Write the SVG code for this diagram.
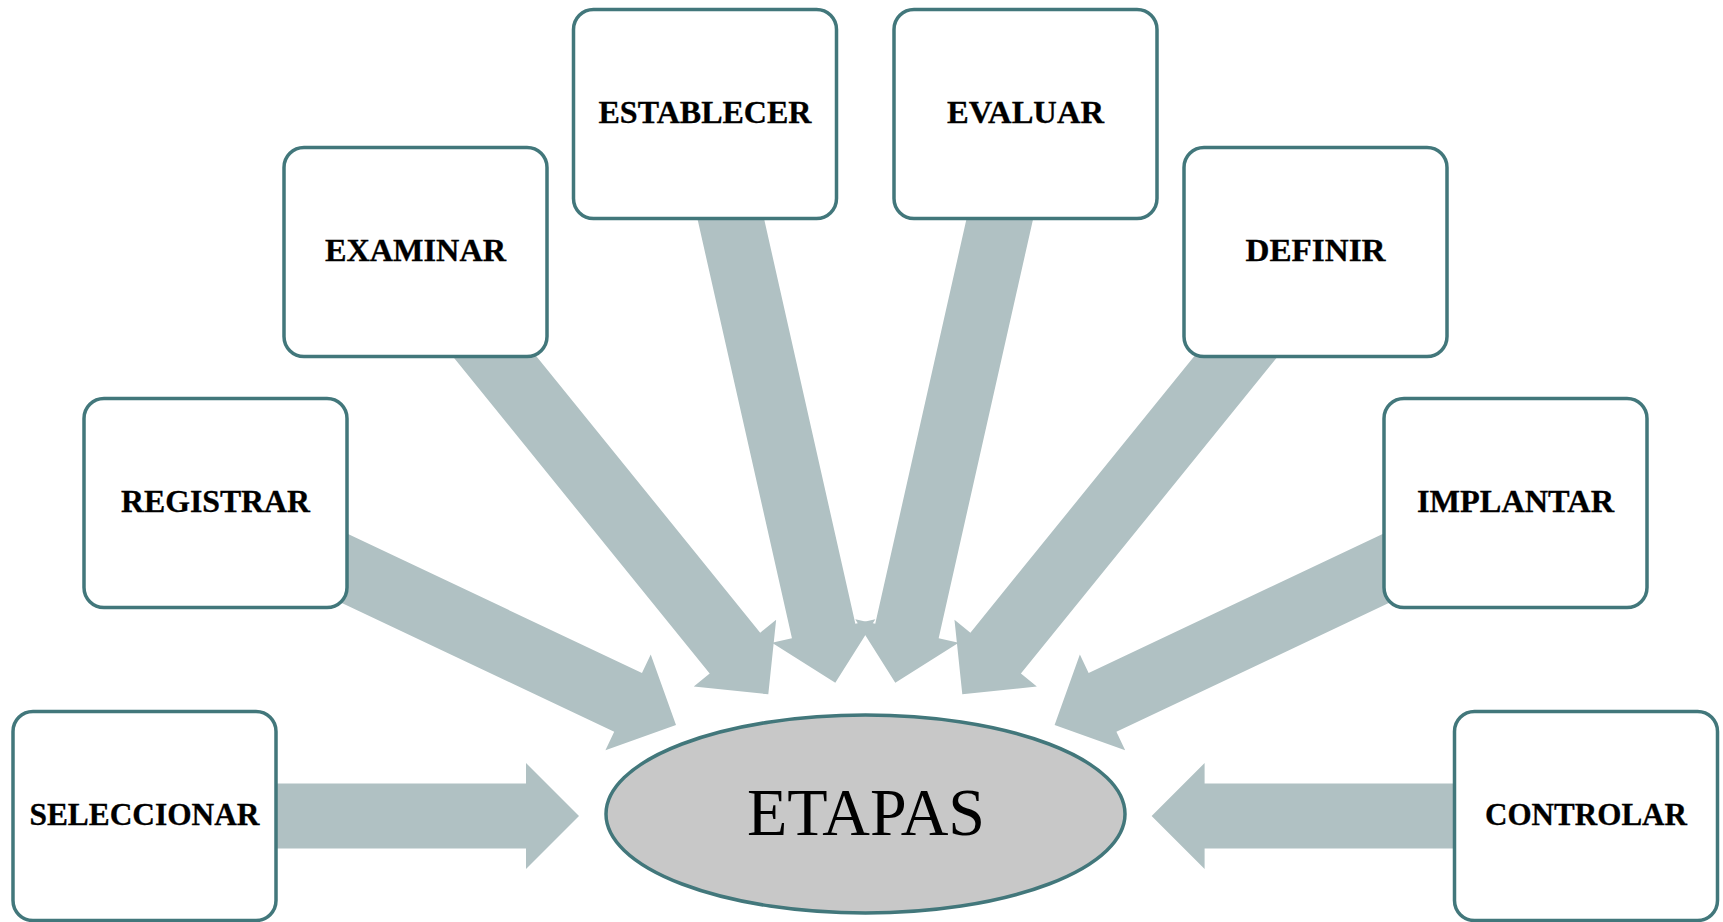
<svg xmlns="http://www.w3.org/2000/svg" xmlns:xlink="http://www.w3.org/1999/xlink" width="1723" height="922" viewBox="0 0 1723 922">
<style>
.box{fill:#ffffff;stroke:#42777b;stroke-width:3.5}
.lbl{font-family:"Liberation Serif","Times New Roman",serif;font-weight:bold;font-size:30.5px;fill:#000;text-anchor:middle;stroke:#000;stroke-width:0.3}
.arr{fill:#b0c1c3}
</style>
<defs>
<path id="blk" d="M0,0 L-53,-53 L-53,-32.5 L-520,-32.5 L-520,32.5 L-53,32.5 L-53,53 Z"/>
</defs>
<rect width="1723" height="922" fill="#ffffff"/>
<g id="connectors" class="arr">
<use xlink:href="#blk" href="#blk" transform="translate(579,816)"/>
<use xlink:href="#blk" href="#blk" transform="translate(676,725) rotate(25.3)"/>
<use xlink:href="#blk" href="#blk" transform="translate(768.3,694.3) rotate(51)"/>
<use xlink:href="#blk" href="#blk" transform="translate(835.3,682.7) rotate(77.3)"/>
<use xlink:href="#blk" href="#blk" transform="translate(895.3,682.7) rotate(102.7)"/>
<use xlink:href="#blk" href="#blk" transform="translate(962.3,694.3) rotate(129)"/>
<use xlink:href="#blk" href="#blk" transform="translate(1054.6,725) rotate(154.7)"/>
<use xlink:href="#blk" href="#blk" transform="translate(1151.6,816) rotate(180)"/>
</g>
<g id="seleccionar"><rect class="box" x="13" y="711.5" width="263" height="209" rx="20"/><text class="lbl" x="144.5" y="825" textLength="230" lengthAdjust="spacingAndGlyphs">SELECCIONAR</text></g>
<g id="registrar"><rect class="box" x="84" y="398.5" width="263" height="209" rx="20"/><text class="lbl" x="215.5" y="512" textLength="189" lengthAdjust="spacingAndGlyphs">REGISTRAR</text></g>
<g id="examinar"><rect class="box" x="284" y="147.5" width="263" height="209" rx="20"/><text class="lbl" x="415.5" y="261" textLength="181" lengthAdjust="spacingAndGlyphs">EXAMINAR</text></g>
<g id="establecer"><rect class="box" x="573.5" y="9.5" width="263" height="209" rx="20"/><text class="lbl" x="705" y="123" textLength="213" lengthAdjust="spacingAndGlyphs">ESTABLECER</text></g>
<g id="evaluar"><rect class="box" x="894" y="9.5" width="263" height="209" rx="20"/><text class="lbl" x="1025.5" y="123" textLength="157" lengthAdjust="spacingAndGlyphs">EVALUAR</text></g>
<g id="definir"><rect class="box" x="1184" y="147.5" width="263" height="209" rx="20"/><text class="lbl" x="1315.5" y="261" textLength="140" lengthAdjust="spacingAndGlyphs">DEFINIR</text></g>
<g id="implantar"><rect class="box" x="1384" y="398.5" width="263" height="209" rx="20"/><text class="lbl" x="1515.5" y="512" textLength="197" lengthAdjust="spacingAndGlyphs">IMPLANTAR</text></g>
<g id="controlar"><rect class="box" x="1454.5" y="711.5" width="263" height="209" rx="20"/><text class="lbl" x="1586" y="825" textLength="202" lengthAdjust="spacingAndGlyphs">CONTROLAR</text></g>
<g id="etapas"><ellipse cx="865.5" cy="814" rx="259.5" ry="99" fill="#c8c8c8" stroke="#42777b" stroke-width="3.5"/><text x="866" y="835" font-family="'Liberation Serif','Times New Roman',serif" font-size="67" text-anchor="middle" textLength="238" lengthAdjust="spacingAndGlyphs" fill="#000">ETAPAS</text></g>
</svg>
